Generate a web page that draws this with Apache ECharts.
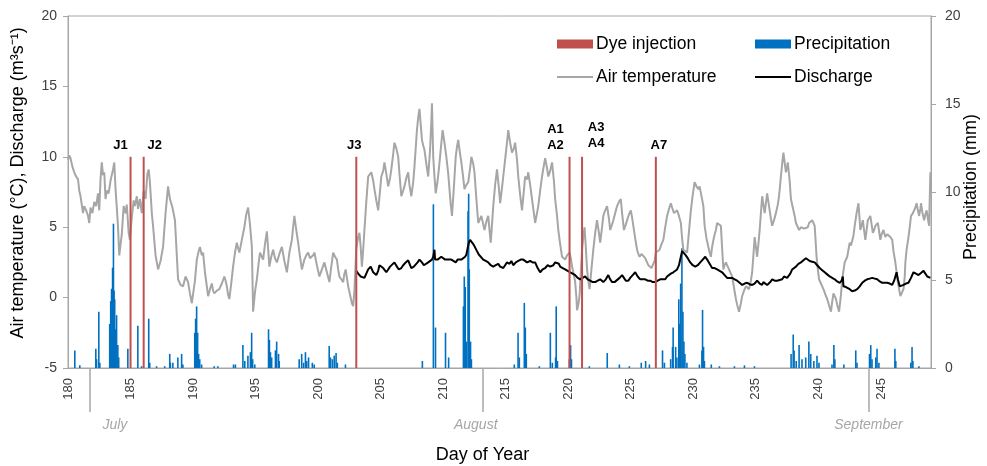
<!DOCTYPE html>
<html><head><meta charset="utf-8">
<script src="https://cdn.jsdelivr.net/npm/echarts@6/dist/echarts.min.js"></script>
<style>html,body{margin:0;padding:0;background:#fff}#c{width:987px;height:466px}</style>
</head><body><div id="c"></div>
<script>
// ---- Data ----
const dayTicks = [180,185,190,195,200,205,210,215,220,225,230,235,240,245];
const monthTickDays = [181.7, 213.2, 244.0];
const monthLabelDays = [183.75, 212.6, 244.0];
const monthNames = ['July','August','September'];
const dyeDays = [185.0, 186.05, 203.05, 220.1, 221.1, 227.0];
const dyeLabels = ['J1','J2','J3','A1\nA2','A3\nA4','A7'];
const dyeHeight = 12;
const airTemperature = [
[180.0,9.8],[180.1,10.1],[180.2,9.9],[180.35,9.3],[180.5,8.9],[180.65,8.6],[180.8,8.4],[180.9,7.6],[181.0,7.2],[181.1,6.6],
[181.2,6.0],[181.3,6.5],[181.45,6.2],[181.6,5.8],[181.7,5.3],[181.8,6.4],[181.95,6.0],[182.1,6.8],[182.25,6.5],[182.4,7.4],
[182.5,6.2],[182.6,8.4],[182.7,9.6],[182.8,8.7],[182.9,8.9],[183.0,7.0],[183.1,7.6],[183.25,7.4],[183.4,8.3],[183.5,8.7],
[183.6,9.1],[183.7,9.6],[183.8,7.7],[183.9,6.4],[184.0,5.0],[184.1,3.0],[184.2,2.9],[184.3,4.5],[184.45,6.5],[184.6,6.0],
[184.7,6.6],[184.85,4.6],[184.95,4.1],[185.1,5.7],[185.25,6.9],[185.35,6.5],[185.5,7.2],[185.6,6.3],[185.75,7.0],[185.9,6.0],
[186.05,7.6],[186.2,7.0],[186.35,8.8],[186.45,9.1],[186.55,8.2],[186.7,6.0],[186.8,5.1],[187.0,3.0],[187.2,2.0],[187.4,2.6],
[187.6,3.6],[187.8,6.0],[188.0,7.9],[188.15,7.0],[188.35,6.4],[188.55,5.5],[188.7,3.0],[188.8,1.3],[189.0,0.9],[189.2,0.8],
[189.4,1.5],[189.6,1.1],[189.75,0.3],[189.9,-0.4],[190.0,-0.5],[190.15,1.2],[190.3,2.7],[190.45,3.3],[190.55,3.6],[190.7,3.0],
[190.8,3.2],[190.95,1.8],[191.1,0.8],[191.2,0.1],[191.35,0.6],[191.5,1.0],[191.6,0.5],[191.7,0.3],[191.9,0.5],[192.1,0.6],
[192.3,1.0],[192.5,1.5],[192.6,1.2],[192.7,0.8],[192.8,0.2],[192.9,-0.1],[193.05,1.0],[193.2,2.2],[193.35,3.2],[193.5,3.9],
[193.6,3.5],[193.7,3.2],[193.9,4.1],[194.1,5.0],[194.25,5.9],[194.4,6.4],[194.55,5.2],[194.7,3.6],[194.8,-1.0],[194.95,0.4],
[195.1,1.3],[195.25,2.5],[195.35,3.2],[195.5,2.9],[195.6,2.7],[195.75,3.8],[195.9,4.7],[196.0,3.5],[196.1,2.2],[196.25,2.9],
[196.4,3.4],[196.55,2.8],[196.7,2.5],[196.9,3.1],[197.1,3.6],[197.3,2.6],[197.5,1.8],[197.7,3.2],[197.9,4.1],[198.0,5.0],
[198.1,5.8],[198.25,4.8],[198.4,3.9],[198.55,2.9],[198.7,2.0],[198.9,2.7],[199.05,3.0],[199.2,3.2],[199.35,2.8],[199.5,2.7],
[199.6,3.0],[199.7,3.2],[199.9,2.3],[200.1,1.5],[200.3,2.0],[200.5,2.5],[200.7,1.8],[200.9,1.1],[201.05,2.2],[201.2,3.2],
[201.35,2.9],[201.5,2.7],[201.6,2.0],[201.7,1.5],[201.85,1.3],[202.0,1.1],[202.1,1.7],[202.2,2.0],[202.3,1.4],[202.4,0.8],
[202.55,0.2],[202.7,-0.4],[202.8,-0.6],[202.9,0.5],[203.05,3.5],[203.2,4.3],[203.3,4.6],[203.4,3.6],[203.5,2.2],[203.6,3.4],
[203.7,4.8],[203.85,6.8],[204.0,8.6],[204.15,8.7],[204.25,8.9],[204.4,8.3],[204.5,7.7],[204.65,6.9],[204.8,6.2],[204.95,7.6],
[205.05,8.6],[205.2,9.0],[205.3,9.6],[205.45,8.8],[205.6,7.9],[205.75,8.5],[205.85,9.1],[206.0,10.2],[206.1,11.0],[206.25,10.6],
[206.4,10.0],[206.5,8.8],[206.65,7.2],[206.8,7.6],[206.9,7.9],[207.05,8.5],[207.2,8.9],[207.3,8.0],[207.45,7.2],[207.6,8.2],
[207.7,9.3],[207.8,10.6],[207.9,11.9],[208.0,12.8],[208.1,13.4],[208.2,12.3],[208.3,11.2],[208.4,10.8],[208.5,10.5],[208.65,9.5],
[208.8,8.6],[208.95,10.5],[209.05,12.5],[209.1,13.8],[209.2,10.0],[209.3,8.6],[209.4,7.4],[209.55,8.3],[209.65,9.1],[209.8,10.5],
[209.95,11.9],[210.1,11.0],[210.25,10.0],[210.4,8.8],[210.5,7.7],[210.6,6.6],[210.7,5.8],[210.85,7.8],[211.0,10.0],[211.1,10.7],
[211.2,11.2],[211.3,10.5],[211.45,9.6],[211.6,8.5],[211.7,7.7],[211.85,8.0],[212.0,8.2],[212.15,9.2],[212.25,10.0],[212.4,9.5],
[212.5,8.9],[212.65,7.0],[212.8,5.3],[212.95,5.6],[213.05,5.8],[213.2,5.2],[213.3,4.8],[213.45,5.4],[213.6,5.8],[213.7,4.8],
[213.8,3.9],[213.9,5.2],[214.0,6.5],[214.15,8.0],[214.3,9.1],[214.45,7.8],[214.55,6.7],[214.7,7.8],[214.8,8.6],[215.0,10.2],
[215.1,11.0],[215.2,11.9],[215.35,11.0],[215.5,10.3],[215.65,10.6],[215.75,11.0],[215.9,9.8],[216.0,8.6],[216.15,7.3],[216.3,6.2],
[216.45,7.6],[216.55,8.6],[216.7,8.4],[216.8,8.9],[216.95,8.0],[217.1,7.0],[217.25,6.0],[217.35,5.3],[217.5,6.0],[217.6,6.5],
[217.75,7.6],[217.9,8.6],[218.05,9.4],[218.15,9.9],[218.3,9.2],[218.4,8.6],[218.55,9.0],[218.7,9.6],[218.85,8.3],[218.95,7.0],
[219.1,5.8],[219.2,4.8],[219.35,3.8],[219.5,2.9],[219.6,2.8],[219.75,2.7],[219.9,3.0],[220.1,3.2],[220.2,2.8],[220.3,2.2],
[220.45,1.6],[220.55,1.1],[220.65,0.0],[220.7,-0.9],[220.8,-0.5],[220.9,0.1],[221.0,1.8],[221.1,3.4],[221.2,4.3],[221.3,5.0],
[221.4,3.6],[221.5,2.0],[221.6,1.2],[221.7,0.6],[221.85,2.0],[222.0,3.4],[222.15,4.6],[222.3,5.5],[222.45,4.6],[222.55,3.9],
[222.7,5.0],[222.8,5.8],[222.95,6.2],[223.1,6.5],[223.25,5.6],[223.35,4.8],[223.5,5.2],[223.6,5.5],[223.75,6.0],[223.9,6.5],
[224.05,6.8],[224.2,7.0],[224.3,6.0],[224.45,4.8],[224.6,5.2],[224.7,5.5],[224.85,5.9],[225.0,6.2],[225.1,5.7],[225.2,5.1],
[225.35,4.2],[225.5,3.4],[225.6,3.1],[225.7,2.9],[225.85,3.1],[226.0,3.2],[226.15,2.8],[226.3,2.5],[226.4,2.3],[226.5,2.2],
[226.65,2.1],[226.8,2.0],[226.9,2.6],[227.0,3.2],[227.15,3.3],[227.3,3.4],[227.45,3.8],[227.6,4.1],[227.75,5.0],[227.9,5.8],
[228.05,6.3],[228.2,6.7],[228.3,6.4],[228.45,6.0],[228.6,6.1],[228.7,6.2],[228.85,5.8],[229.0,5.3],[229.1,4.2],[229.2,3.4],
[229.35,3.3],[229.5,3.2],[229.65,4.7],[229.8,6.2],[229.95,7.3],[230.1,8.2],[230.25,7.9],[230.4,7.7],[230.5,7.9],[230.65,8.0],
[230.8,6.5],[230.9,5.1],[231.05,4.2],[231.2,3.6],[231.3,3.2],[231.4,2.9],[231.5,3.6],[231.65,4.3],[231.8,4.8],[231.9,5.3],
[232.05,5.2],[232.2,5.1],[232.3,3.5],[232.4,2.0],[232.5,2.3],[232.6,2.5],[232.75,2.2],[232.85,2.0],[233.0,1.7],[233.1,1.5],
[233.25,0.7],[233.4,-0.1],[233.5,-0.5],[233.65,-1.0],[233.8,-0.4],[233.9,0.1],[234.05,0.5],[234.2,0.8],[234.35,0.7],[234.45,0.6],
[234.6,1.2],[234.7,1.8],[234.8,3.0],[234.9,4.3],[235.0,3.6],[235.1,2.9],[235.2,3.8],[235.3,4.8],[235.4,6.0],[235.5,7.2],
[235.6,6.6],[235.7,6.0],[235.8,6.7],[235.9,7.4],[236.0,6.8],[236.1,6.2],[236.2,5.6],[236.3,5.1],[236.45,5.5],[236.6,6.0],
[236.75,6.6],[236.85,7.2],[237.0,8.6],[237.1,9.5],[237.2,10.3],[237.3,9.6],[237.4,8.9],[237.5,9.3],[237.55,9.6],[237.7,8.3],
[237.8,7.0],[237.9,6.6],[238.0,6.2],[238.1,5.8],[238.2,5.3],[238.35,5.0],[238.45,4.8],[238.6,5.0],[238.7,5.1],[238.85,4.9],
[239.0,4.8],[239.15,5.0],[239.25,5.3],[239.4,5.4],[239.5,5.5],[239.6,5.3],[239.7,5.1],[239.85,2.9],[239.95,2.0],[240.05,1.3],
[240.2,1.0],[240.3,0.8],[240.45,0.5],[240.6,0.1],[240.7,-0.1],[240.8,-0.4],[240.9,-0.7],[241.0,-1.0],[241.1,-0.3],[241.2,0.3],
[241.3,0.1],[241.4,-0.1],[241.5,-0.5],[241.65,-1.0],[241.8,0.2],[241.9,1.3],[242.0,1.9],[242.1,2.5],[242.2,2.7],[242.3,2.9],
[242.4,3.4],[242.5,3.9],[242.6,3.7],[242.7,3.6],[242.8,4.4],[242.9,5.1],[243.05,6.0],[243.2,6.7],[243.35,4.8],[243.45,5.1],
[243.55,5.5],[243.65,4.8],[243.75,4.1],[243.85,4.8],[243.95,5.5],[244.05,5.6],[244.15,5.8],[244.25,5.2],[244.35,4.6],[244.45,4.8],
[244.55,5.1],[244.65,5.2],[244.75,5.3],[244.85,4.7],[244.95,4.1],[245.05,4.5],[245.2,4.8],[245.35,4.3],[245.5,4.5],[245.6,4.6],
[245.75,4.3],[245.9,4.1],[246.0,3.3],[246.15,2.5],[246.25,1.8],[246.35,1.1],[246.45,0.6],[246.55,0.1],[246.7,0.4],[246.8,0.6],
[246.9,1.5],[246.95,2.5],[247.05,3.4],[247.2,4.3],[247.3,5.0],[247.4,5.8],[247.55,6.0],[247.65,6.2],[247.75,6.4],[247.85,6.7],
[247.95,6.2],[248.05,5.8],[248.15,6.3],[248.2,6.7],[248.3,6.1],[248.45,5.5],[248.55,5.9],[248.65,6.2],[248.75,5.6],[248.85,5.1],
[248.95,8.9]
];
const discharge = [
[203.05,1.9],[203.2,1.7],[203.4,1.5],[203.55,1.4],[203.7,1.4],[203.85,1.7],[204.0,2.0],[204.2,2.2],[204.4,1.8],[204.65,1.6],
[204.8,1.9],[204.9,2.3],[205.05,2.3],[205.2,2.1],[205.45,1.8],[205.6,2.0],[205.75,2.2],[205.9,2.3],[206.1,2.5],[206.3,2.2],
[206.45,2.0],[206.65,2.1],[206.8,2.3],[207.0,2.5],[207.2,2.65],[207.35,2.3],[207.45,2.1],[207.65,2.2],[207.8,2.3],[207.95,2.5],
[208.1,2.7],[208.3,2.5],[208.45,2.3],[208.6,2.3],[208.8,2.5],[208.95,2.6],[209.1,2.7],[209.2,2.9],[209.3,3.4],[209.35,2.7],
[209.45,2.6],[209.55,2.7],[209.7,2.8],[209.85,2.9],[210.0,2.9],[210.15,2.7],[210.3,2.6],[210.45,2.7],[210.65,2.7],[210.8,2.6],
[211.0,2.5],[211.15,2.7],[211.3,2.8],[211.45,2.7],[211.6,2.7],[211.75,2.9],[211.85,3.05],[211.95,3.5],[212.05,3.9],[212.15,4.1],
[212.25,4.0],[212.4,3.8],[212.5,3.65],[212.7,3.3],[212.85,3.05],[213.0,2.9],[213.2,2.7],[213.4,2.6],[213.6,2.5],[213.8,2.3],
[214.0,2.2],[214.2,2.3],[214.4,2.4],[214.55,2.2],[214.8,2.1],[214.95,2.3],[215.1,2.5],[215.3,2.4],[215.45,2.6],[215.6,2.3],
[215.8,2.5],[216.0,2.6],[216.1,2.5],[216.2,2.7],[216.3,2.6],[216.4,2.7],[216.55,2.6],[216.7,2.5],[216.85,2.6],[216.95,2.6],
[217.15,2.5],[217.35,2.5],[217.55,2.1],[217.75,1.8],[217.95,2.0],[218.15,2.1],[218.35,2.3],[218.55,2.2],[218.7,2.3],[218.8,2.3],
[218.95,2.5],[219.1,2.6],[219.25,2.4],[219.35,2.2],[219.55,2.1],[219.75,2.0],[219.95,1.9],[220.15,1.8],[220.35,1.7],[220.55,1.6],
[220.75,1.4],[220.95,1.3],[221.15,1.4],[221.35,1.5],[221.55,1.3],[221.75,1.2],[221.95,1.1],[222.15,1.1],[222.35,1.2],[222.55,1.3],
[222.8,1.1],[223.0,1.3],[223.2,1.6],[223.35,1.3],[223.5,1.1],[223.7,1.1],[223.85,1.2],[224.1,1.4],[224.3,1.6],[224.45,1.4],
[224.6,1.2],[224.8,1.2],[224.95,1.4],[225.15,1.6],[225.35,1.8],[225.55,1.5],[225.75,1.3],[225.95,1.3],[226.15,1.3],[226.35,1.2],
[226.55,1.2],[226.75,1.1],[226.95,1.1],[227.15,1.2],[227.35,1.3],[227.55,1.3],[227.75,1.3],[227.9,1.5],[228.0,1.6],[228.2,1.7],
[228.4,1.8],[228.55,1.9],[228.7,2.0],[228.85,2.3],[228.95,2.7],[229.05,3.1],[229.1,3.3],[229.2,3.2],[229.35,3.05],[229.55,2.8],
[229.75,2.5],[229.95,2.3],[230.15,2.2],[230.35,2.3],[230.55,2.5],[230.75,2.7],[230.95,2.9],[231.1,2.7],[231.3,2.4],[231.5,2.1],
[231.7,2.1],[231.9,2.0],[232.1,1.9],[232.3,1.8],[232.5,1.6],[232.7,1.4],[232.9,1.4],[233.1,1.4],[233.3,1.3],[233.5,1.2],
[233.7,1.05],[233.9,0.9],[234.1,1.0],[234.3,1.05],[234.5,0.95],[234.7,0.9],[234.9,1.0],[235.1,1.2],[235.3,1.0],[235.5,0.9],
[235.6,1.1],[235.75,1.2],[235.9,0.9],[236.0,0.8],[236.15,1.1],[236.3,1.3],[236.5,1.2],[236.7,1.2],[236.9,1.25],[237.1,1.3],
[237.25,1.5],[237.35,1.5],[237.5,1.4],[237.6,1.4],[237.75,1.7],[237.9,2.0],[238.05,2.1],[238.2,2.2],[238.4,2.4],[238.6,2.5],
[238.8,2.65],[239.0,2.8],[239.15,2.7],[239.3,2.6],[239.5,2.55],[239.7,2.5],[239.9,2.3],[240.1,2.1],[240.3,1.95],[240.5,1.8],
[240.7,1.65],[240.9,1.5],[241.1,1.4],[241.3,1.3],[241.5,1.15],[241.7,1.05],[241.85,1.2],[241.95,1.5],[242.0,0.8],[242.2,0.75],
[242.35,0.7],[242.5,0.6],[242.7,0.45],[242.9,0.5],[243.1,0.6],[243.3,0.8],[243.5,1.05],[243.7,1.2],[243.9,1.3],[244.1,1.35],
[244.3,1.4],[244.5,1.35],[244.7,1.3],[244.9,1.15],[245.1,1.05],[245.3,1.05],[245.5,1.05],[245.7,1.0],[245.9,0.9],[246.05,1.2],
[246.25,1.8],[246.35,1.3],[246.5,0.8],[246.65,0.85],[246.8,0.9],[247.0,1.0],[247.2,1.05],[247.4,1.4],[247.6,1.8],[247.8,1.7],
[248.0,1.6],[248.2,1.75],[248.4,1.9],[248.55,1.7],[248.7,1.5],[248.85,1.45],[248.95,1.4]
];
const precipitation = [
[180.56,1.0],[180.96,0.15],[182.24,1.1],[182.3,0.5],[182.48,3.2],[182.56,0.3],[183.35,2.5],[183.43,3.8],[183.5,4.5],[183.58,5.7],
[183.65,8.2],[183.7,4.4],[183.75,3.9],[183.83,2.2],[183.9,3.0],[184.0,1.3],[184.07,0.6],[184.8,1.1],[185.6,2.4],[185.9,0.1],
[186.47,2.8],[186.55,0.3],[187.1,0.1],[187.75,0.1],[188.15,0.8],[188.2,0.3],[188.4,0.3],[188.8,0.6],[189.1,0.8],[189.2,0.2],
[190.15,2.0],[190.22,2.8],[190.3,3.5],[190.38,2.0],[190.46,0.8],[190.55,0.5],[190.7,0.2],[191.7,0.1],[192.0,0.1],[193.25,0.2],
[193.4,0.2],[194.0,1.3],[194.15,0.4],[194.4,0.7],[194.6,0.9],[194.7,2.0],[194.78,0.5],[194.95,0.2],[196.05,2.2],[196.12,1.6],
[196.2,0.9],[196.3,0.6],[196.6,1.0],[196.7,1.5],[196.85,0.8],[196.9,0.4],[198.5,0.5],[198.7,0.8],[198.85,0.3],[199.0,0.9],
[199.1,0.4],[199.25,0.6],[199.55,0.3],[199.7,0.2],[200.9,1.25],[201.0,0.6],[201.15,0.5],[201.3,0.7],[201.45,0.85],[201.55,0.3],
[202.2,0.2],[208.35,0.4],[209.23,9.3],[209.4,2.3],[210.2,2.0],[210.45,0.6],[211.63,3.5],[211.7,5.2],[211.78,4.6],[211.87,1.5],
[212.0,8.9],[212.05,9.9],[212.1,5.6],[212.2,1.5],[212.27,0.5],[215.7,0.2],[216.0,2.0],[216.1,0.6],[216.5,3.7],[216.58,2.3],
[216.66,0.8],[217.7,0.1],[218.58,2.0],[218.74,0.3],[219.0,0.6],[219.05,3.5],[219.15,0.4],[220.1,0.5],[220.2,1.3],[220.27,0.5],
[221.7,0.1],[223.13,0.85],[224.1,0.2],[224.9,0.1],[225.85,0.3],[226.2,0.4],[226.5,0.2],[227.55,1.0],[227.7,0.3],[228.2,0.5],
[228.35,1.2],[228.4,2.3],[228.6,1.2],[228.7,0.6],[228.85,3.9],[228.9,2.5],[229.0,4.8],[229.1,6.8],[229.18,3.2],[229.26,1.5],
[229.34,0.8],[229.5,0.3],[230.5,0.2],[230.7,1.0],[230.75,3.3],[230.83,1.2],[230.9,0.4],[231.45,0.2],[232.1,0.1],[233.3,0.1],
[234.1,0.15],[234.9,0.1],[237.83,0.8],[238.0,1.9],[238.07,1.0],[238.24,0.4],[238.47,1.3],[238.7,0.5],[239.0,0.6],[239.25,1.5],
[239.4,0.8],[239.65,0.4],[239.9,0.7],[240.06,0.3],[241.1,0.2],[241.25,1.3],[241.33,0.5],[242.05,0.2],[243.0,1.0],[243.1,0.3],
[244.1,0.8],[244.2,1.3],[244.3,0.5],[244.6,0.6],[244.7,1.1],[244.85,0.3],[246.13,1.1],[246.2,0.4],[247.4,0.3],[247.5,1.2],
[247.57,0.4],[248.05,0.1]
];

// ---- Chart ----
const FONT = 'Arial, "Liberation Sans", sans-serif';
const AXIS_GRAY = '#a6a6a6';
const TEXT = '#404040';
const dyeLabelOffsets = [[-10,0],[11,0],[-2,0],[-14,0],[14,-2],[3,0]];

const chart = echarts.init(document.getElementById('c'), null, {renderer:'canvas'});
const legendBase = {padding:0, itemWidth:36, itemGap:0,
  textStyle:{fontFamily:FONT, fontSize:17.5, color:'#000', padding:[0,0,0,-2]}, selectedMode:false};

const option = {
  animation:false,
  backgroundColor:'#fff',
  textStyle:{fontFamily:FONT},
  grid:{left:68, right:56, top:16, bottom:98, show:true, borderColor:AXIS_GRAY, borderWidth:1,
        containLabel:false, outerBoundsMode:'none'},
  legend:[
    Object.assign({}, legendBase, {left:557, top:35, itemHeight:9, data:[{name:'Dye injection', icon:'rect'}]}),
    Object.assign({}, legendBase, {left:755, top:35, itemHeight:9, data:[{name:'Precipitation', icon:'rect'}]}),
    Object.assign({}, legendBase, {left:557, top:68, itemHeight:2, data:[{name:'Air temperature', icon:'rect'}]}),
    Object.assign({}, legendBase, {left:755, top:68, itemHeight:2, data:[{name:'Discharge', icon:'rect'}]})
  ],
  xAxis:[
    {type:'value', min:180, max:249, interval:5, position:'bottom',
     name:'Day of Year', nameLocation:'middle', nameGap:78,
     nameTextStyle:{fontFamily:FONT, fontSize:18, color:'#000', padding:[0,34,0,0]},
     axisLine:{show:true, onZero:false, lineStyle:{color:AXIS_GRAY, width:1}},
     axisTick:{show:false}, splitLine:{show:false},
     axisLabel:{rotate:90, margin:10, fontSize:13, color:TEXT, fontFamily:FONT, customValues:dayTicks}},
    {type:'value', min:180, max:249, position:'bottom',
     axisLine:{show:false, onZero:false}, splitLine:{show:false},
     axisTick:{show:true, length:44, customValues:monthTickDays, lineStyle:{color:AXIS_GRAY, width:1.5}},
     axisLabel:{show:true, customValues:monthLabelDays, margin:50, fontSize:14, fontStyle:'italic', color:AXIS_GRAY,
       fontFamily:FONT, formatter:function(v){
         let best=0; for(let i=1;i<monthLabelDays.length;i++){ if(Math.abs(monthLabelDays[i]-v)<Math.abs(monthLabelDays[best]-v)) best=i; }
         return monthNames[best]; }}}
  ],
  yAxis:[
    {type:'value', min:-5, max:20, interval:5, position:'left',
     name:'Air temperature (°C), Discharge (m³s⁻¹)', nameLocation:'middle', nameGap:41, nameMoveOverlap:false,
     nameTextStyle:{fontFamily:FONT, fontSize:18, color:'#000', padding:[0,0,0,18]},
     axisLine:{show:true, onZero:false, lineStyle:{color:AXIS_GRAY}},
     axisTick:{show:true, length:5, lineStyle:{color:AXIS_GRAY}},
     splitLine:{show:false},
     axisLabel:{margin:11, fontSize:14, color:TEXT, fontFamily:FONT}},
    {type:'value', min:0, max:20, interval:5, position:'right',
     name:'Precipitation (mm)', nameLocation:'middle', nameGap:31, nameRotate:90, nameMoveOverlap:false,
     nameTextStyle:{fontFamily:FONT, fontSize:18, color:'#000', padding:[0,0,0,10]},
     axisLine:{show:true, onZero:false, lineStyle:{color:AXIS_GRAY}},
     axisTick:{show:true, length:5, lineStyle:{color:AXIS_GRAY}},
     splitLine:{show:false},
     axisLabel:{margin:14, fontSize:14, color:TEXT, fontFamily:FONT}}
  ],
  series:[
    {name:'Precipitation', type:'bar', xAxisIndex:0, yAxisIndex:1, data:precipitation,
     barWidth:1.6, barGap:'-100%', itemStyle:{color:'#0070c0'}, silent:true},
    {name:'Air temperature', type:'line', xAxisIndex:0, yAxisIndex:0, data:airTemperature,
     symbol:'none', lineStyle:{color:'#a6a6a6', width:2}, itemStyle:{color:'#a6a6a6'}, silent:true},
    {name:'Discharge', type:'line', xAxisIndex:0, yAxisIndex:0, data:discharge,
     symbol:'none', lineStyle:{color:'#000', width:2}, itemStyle:{color:'#000'}, silent:true},
    {name:'Dye injection', type:'bar', xAxisIndex:0, yAxisIndex:1,
     data:dyeDays.map(function(d,i){ return {value:[d, dyeHeight], label:{offset:dyeLabelOffsets[i]}}; }),
     barWidth:2, barGap:'-100%', itemStyle:{color:'#c0504d'}, silent:true, z:5,
     label:{show:true, position:'top', distance:3, fontFamily:FONT, fontSize:13, fontWeight:'bold', color:'#000', lineHeight:16,
       formatter:function(p){ return dyeLabels[p.dataIndex]; }}}
  ]
};
chart.setOption(option);
</script></body></html>
